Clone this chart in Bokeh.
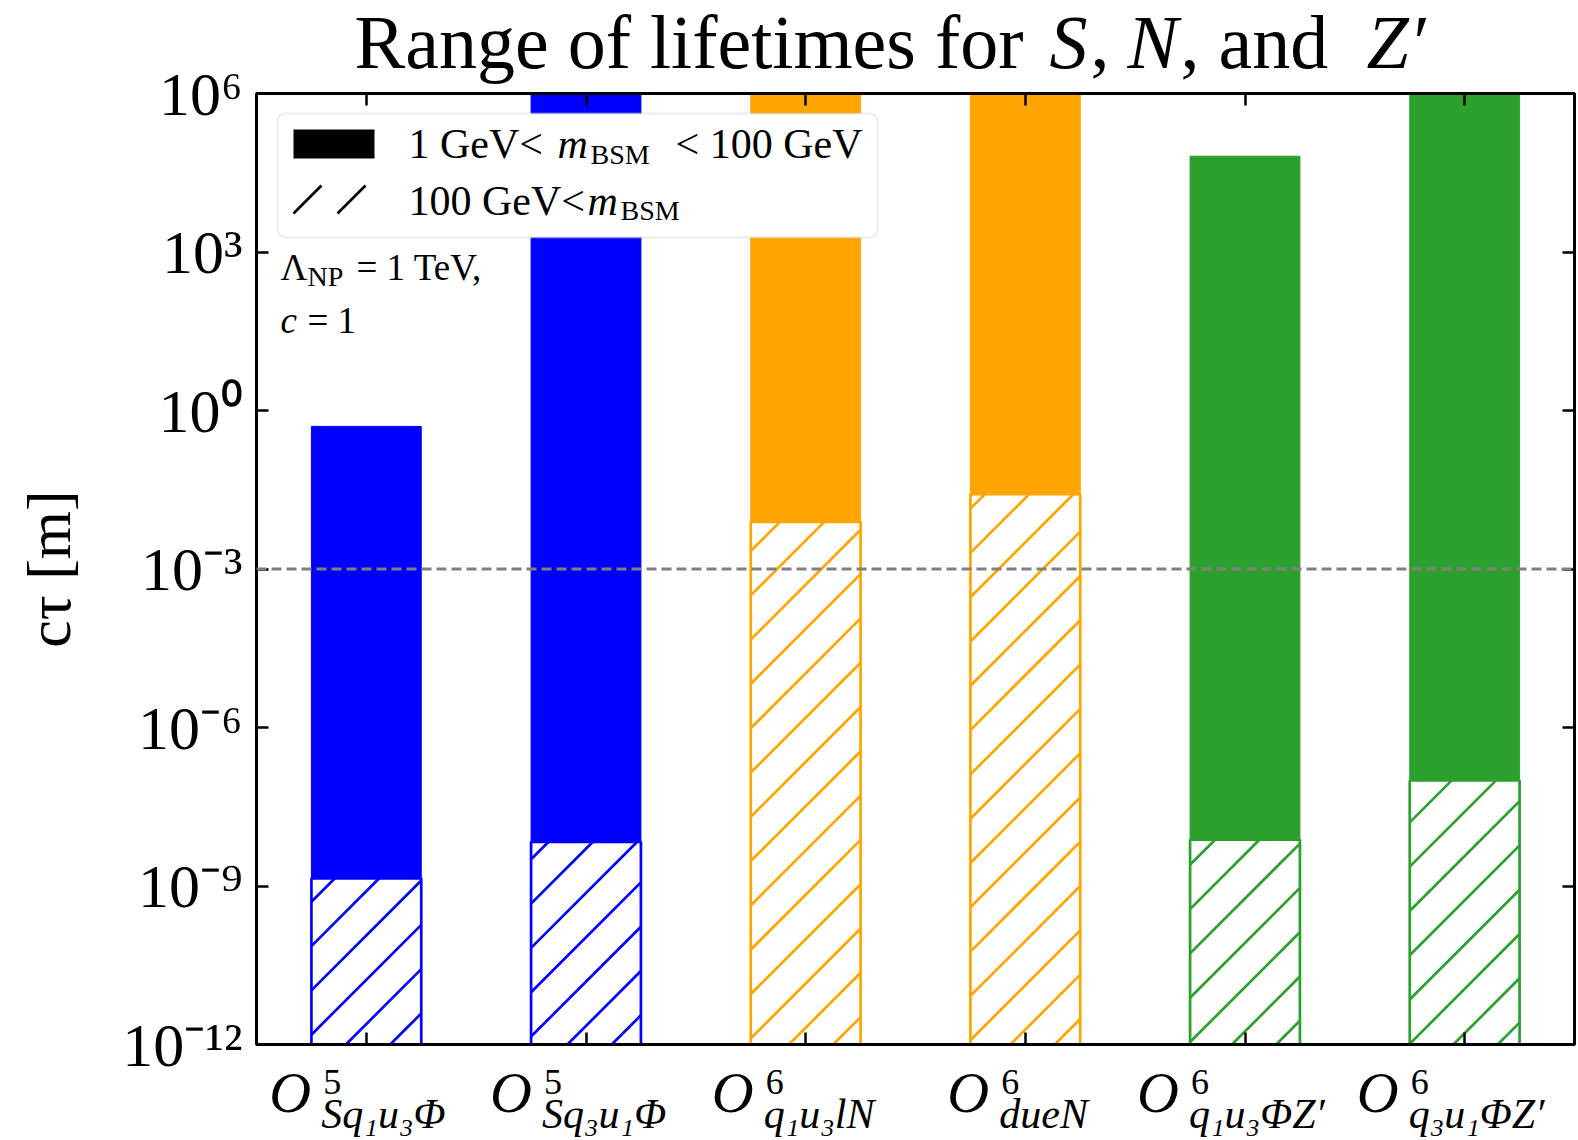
import math
from bokeh.plotting import figure
from bokeh.models import (Range1d, FixedTicker, LinearAxis, LogAxis, Span, Label, Arrow,
                          BoxAnnotation, CustomJSTickFormatter)
from bokeh.embed import file_html
from bokeh.resources import INLINE

# ---------------- data ----------------
operators = ["O5_Sq1u3Phi", "O5_Sq3u1Phi", "O6_q1u3lN", "O6_dueN", "O6_q1u3PhiZp", "O6_q3u1PhiZp"]
op_dims = ["5", "5", "6", "6", "6", "6"]
op_subs = ["Sq₁u₃Φ", "Sq₃u₁Φ", "q₁u₃lN", "dueN", "q₁u₃ΦZ′", "q₃u₁ΦZ′"]
bar_colors = ["#0000ff", "#0000ff", "#ffa500", "#ffa500", "#2ca02c", "#2ca02c"]
# c*tau [m] at the boundary m_BSM = 100 GeV (top of hatched part)
ctau_at_100GeV = [1.4e-9, 6.8e-9, 7.8e-3, 2.6e-2, 7.5e-9, 1.0e-7]
# c*tau [m] at m_BSM = 1 GeV (top of filled part; 1e8 = beyond the plotted range)
ctau_at_1GeV = [0.50, 1e8, 1e8, 1e8, 6.5e4, 1e8]
y_ticks = [1e-12, 1e-9, 1e-6, 1e-3, 1e0, 1e3, 1e6]
y_limits = (1e-12, 1e6)
reference_ctau = 1e-3
x_positions = list(range(len(operators)))

# ---------------- layout constants ----------------
W, H = 1578, 1140
FW, FH = 1318, 951
LEFT, RIGHT, TOP, BOTTOM = 256, 4, 93, 96
SERIF = "Liberation Serif"
BAR_W = 0.5
HATCH, HATCH_PHASE, HATCH_LW = 44.3, 21.5, 2.7
BASELINE_FIX = 0.333   # Bokeh's alphabetic anchor sits ~1/3 em low in this renderer

xr = Range1d(-0.5, len(operators) - 0.5)
LOG_LO, LOG_HI = math.log10(y_limits[0]), math.log10(y_limits[1])


def px_x(px):          # frame pixel (from left) -> data x
    return -0.5 + px * len(operators) / FW


def px_y(py):          # frame pixel (from top) -> data y
    return 10 ** (LOG_HI - py * (LOG_HI - LOG_LO) / FH)


def x_px(x):
    return (x + 0.5) * FW / len(operators)


def y_px(y):
    return (LOG_HI - math.log10(y)) * FH / (LOG_HI - LOG_LO)


def hatch_lines(left, right, top, bottom, spacing, phase):
    """45-degree '/' hatch inside a pixel box, returned as pixel segments."""
    segs = []
    c = math.ceil((left + top - phase) / spacing) * spacing + phase
    while c < right + bottom:
        xa, xb = max(left, c - bottom), min(right, c - top)
        if xb > xa:
            segs.append((xa, c - xa, xb, c - xb))
        c += spacing
    return segs


p = figure(frame_width=FW, frame_height=FH, x_range=xr,
           y_range=Range1d(*y_limits), y_axis_type="log",
           output_backend="svg", toolbar_location=None,
           min_border_left=LEFT, min_border_right=RIGHT,
           min_border_top=TOP, min_border_bottom=BOTTOM,
           background_fill_color="white", border_fill_color="white", name="main_plot")
p.xgrid.visible = False
p.ygrid.visible = False
p.outline_line_color = "black"
p.outline_line_width = 3

# hatched part: m_BSM > 100 GeV
p.vbar(x=x_positions, width=BAR_W, bottom=y_limits[0], top=ctau_at_100GeV,
       fill_color="white", line_color=bar_colors, line_width=HATCH_LW)
hx0, hy0, hx1, hy1, hc = [], [], [], [], []
for xi, top_val, col in zip(x_positions, ctau_at_100GeV, bar_colors):
    for (a, b, c, d) in hatch_lines(x_px(xi - BAR_W / 2), x_px(xi + BAR_W / 2),
                                    y_px(top_val), y_px(y_limits[0]), HATCH, HATCH_PHASE):
        hx0.append(px_x(a)); hy0.append(px_y(b)); hx1.append(px_x(c)); hy1.append(px_y(d)); hc.append(col)
p.segment(x0=hx0, y0=hy0, x1=hx1, y1=hy1, line_color=hc, line_width=HATCH_LW)
# filled part: 1 GeV < m_BSM < 100 GeV
p.vbar(x=x_positions, width=BAR_W, bottom=ctau_at_100GeV, top=ctau_at_1GeV,
       fill_color=bar_colors, line_color=bar_colors, line_width=1)

# reference line (drawn over the bars)
p.add_layout(Span(location=reference_ctau, dimension="width", line_color="#808080",
                  line_dash="10 5", line_width=3))

blank = CustomJSTickFormatter(code="return '';")
yfmt = CustomJSTickFormatter(code="""
const sup = {"-":"\u207b","0":"\u2070","1":"\u00b9","2":"\u00b2","3":"\u00b3","4":"\u2074",
             "5":"\u2075","6":"\u2076","7":"\u2077","8":"\u2078","9":"\u2079"};
const e = Math.round(Math.log10(tick));
return "10" + String(e).split("").map(c => sup[c]).join("");
""")


def style(ax):
    ax.axis_line_width = 3
    ax.axis_line_color = "black"
    ax.major_tick_in = 12
    ax.major_tick_out = 0
    ax.minor_tick_in = 0
    ax.minor_tick_out = 0
    ax.major_tick_line_width = 2.5
    ax.major_tick_line_color = "black"


def hide_labels(ax):
    ax.formatter = blank
    ax.major_label_standoff = 0
    ax.major_label_text_font_size = "0px"


ya = p.yaxis[0]
ya.ticker = FixedTicker(ticks=y_ticks, minor_ticks=[])
ya.formatter = yfmt
ya.major_label_text_font = SERIF
ya.major_label_text_font_size = "62px"
ya.major_label_text_color = "black"
ya.major_label_standoff = 14
ya.axis_label = "cτ [m]"
ya.axis_label_text_font = SERIF
ya.axis_label_text_font_size = "62px"
ya.axis_label_text_font_style = "normal"
ya.axis_label_text_color = "black"
ya.axis_label_standoff = 36
style(ya)

xa = p.xaxis[0]
xa.ticker = FixedTicker(ticks=x_positions, minor_ticks=[])
hide_labels(xa)
style(xa)

ra = LogAxis(ticker=FixedTicker(ticks=y_ticks, minor_ticks=[]))
hide_labels(ra)
style(ra)
p.add_layout(ra, "right")
ta = LinearAxis(ticker=FixedTicker(ticks=x_positions, minor_ticks=[]))
hide_labels(ta)
style(ta)
p.add_layout(ta, "above")

# legend
p.add_layout(BoxAnnotation(left=px_x(21), right=px_x(621), top=px_y(20), bottom=px_y(144),
                           fill_color="white", fill_alpha=1.0, line_color="#cccccc", line_width=2.5,
                           border_radius=8, level="overlay"))
p.add_layout(BoxAnnotation(left=px_x(37), right=px_x(118), top=px_y(36), bottom=px_y(65),
                           fill_color="black", fill_alpha=1.0, line_alpha=0, level="overlay"))
for (a, b, c, d) in hatch_lines(37, 113, 92, 120, 44, 25):
    p.add_layout(Arrow(end=None, x_start=px_x(a), y_start=px_y(b), x_end=px_x(c), y_end=px_y(d),
                       line_color="black", line_width=HATCH_LW, level="overlay"))

x_left = -0.5
y_top = y_limits[1]


def txt(fig, x, y, text, size, x_off=0, y_off=0, italic=False, align="left"):
    size_px = float(size.replace("px", ""))
    fig.add_layout(Label(x=x, y=y, x_offset=x_off, y_offset=y_off + BASELINE_FIX * size_px, text=text,
                         text_align=align, text_baseline="alphabetic", text_font=SERIF,
                         text_font_style="italic" if italic else "normal",
                         text_font_size=size, text_color="black", level="overlay"))


txt(p, x_left, y_top, "1 GeV<", "42px", 152, -64)
txt(p, x_left, y_top, "m", "42px", 301, -64, italic=True)
txt(p, x_left, y_top, "BSM", "28px", 334, -70)
txt(p, x_left, y_top, "< 100 GeV", "42px", 419, -64)
txt(p, x_left, y_top, "100 GeV<", "42px", 152, -121)
txt(p, x_left, y_top, "m", "42px", 331, -121, italic=True)
txt(p, x_left, y_top, "BSM", "28px", 364, -126)

txt(p, x_left, y_top, "Λ", "37px", 24, -186)
txt(p, x_left, y_top, "NP", "28px", 51, -192)
txt(p, x_left, y_top, "= 1 TeV,", "37px", 100, -186)
txt(p, x_left, y_top, "c", "37px", 24, -239, italic=True)
txt(p, x_left, y_top, "= 1", "37px", 51, -239)

# ---------------- transparent text layer (title and operator names outside the frame) ----------------
ov = figure(frame_width=FW, frame_height=H, x_range=xr, y_range=Range1d(H, 0),
            output_backend="svg", toolbar_location=None, title=None,
            x_axis_location=None, y_axis_location=None,
            min_border_left=LEFT, min_border_right=RIGHT, min_border_top=0, min_border_bottom=0,
            background_fill_alpha=0, border_fill_alpha=0, name="text_layer")
ov.outline_line_color = None
ov.xgrid.visible = False
ov.ygrid.visible = False

title_parts = [("Range of lifetimes for", False, 98), ("S", True, 793), (",", False, 834),
               ("N", True, 871), (", and", False, 924), ("Z′", True, 1110)]
for t, it, off in title_parts:
    txt(ov, x_left, 67, t, "76px", off, 0, italic=it)

sub_offsets = [-45, -44, -42, -26, -56, -56]
for i, (d, s) in enumerate(zip(op_dims, op_subs)):
    off = sub_offsets[i]
    txt(ov, x_positions[i], 1111, "O", "58px", off - 52, 0, italic=True)
    txt(ov, x_positions[i], 1093, d, "36px", off + 2, 0)
    txt(ov, x_positions[i], 1127, s, "42px", off, 0, italic=True)

TEMPLATE = """
{% block postamble %}
<style>
  .layer { position: absolute; left: 0; top: 0; }
</style>
{% endblock %}
{% block contents %}
<div class="layer">{{ embed(roots[0]) }}</div>
<div class="layer">{{ embed(roots[1]) }}</div>
{% endblock %}
"""

open("out.html", "w").write(file_html([p, ov], INLINE, template=TEMPLATE))
